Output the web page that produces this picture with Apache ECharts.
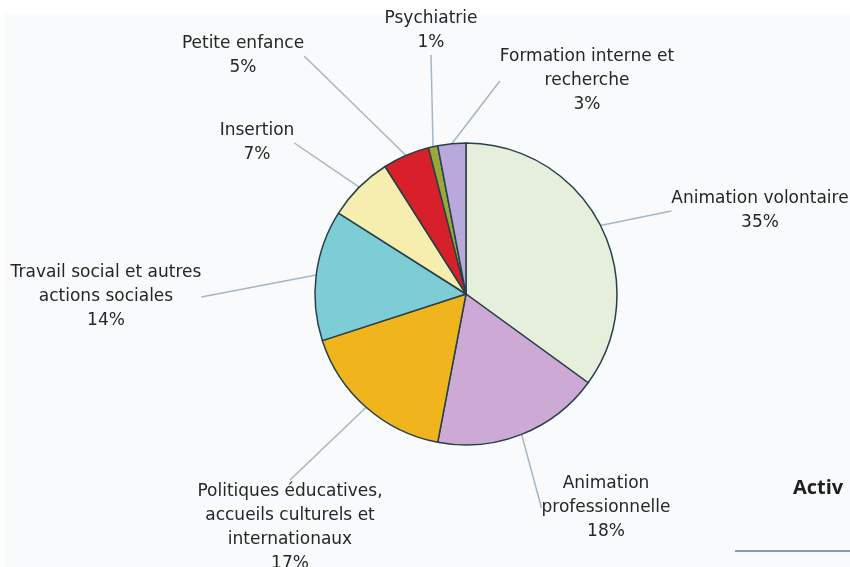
<!DOCTYPE html>
<html>
<head>
<meta charset="utf-8">
<script src="https://cdn.jsdelivr.net/npm/echarts@6/dist/echarts.min.js"></script>
<style>
  html, body { margin: 0; padding: 0; background: #ffffff; }
  #chart { width: 850px; height: 567px; }
</style>
</head>
<body>
<div id="chart"></div>
<script>
// categories, clockwise from 12 o'clock
const categories = [
  'Animation volontaire',
  'Animation\nprofessionnelle',
  'Politiques éducatives,\naccueils culturels et\ninternationaux',
  'Travail social et autres\nactions sociales',
  'Insertion',
  'Petite enfance',
  'Psychiatrie',
  'Formation interne et\nrecherche'
]
// share in %
const shares = [35, 18, 17, 14, 7, 5, 1, 3]

const colors = ['#e6efdc', '#cda9d5', '#f0b41c', '#7ccdd5', '#f6eeae', '#d8202a', '#9aa83a', '#b9a8dc']

// where each label block sits (centre of the text block)
const labelSpots = [
  [760, 211], [606, 508], [290, 528], [106, 297],
  [257, 143], [243, 56], [431, 31], [587, 81]
]

const chart = echarts.init(document.getElementById('chart'))

const option = {
  backgroundColor: '#ffffff',
  animation: false,
  graphic: [
    {
      type: 'rect',
      z: -10,
      shape: { x: 5, y: 14, width: 845, height: 553 },
      style: { fill: '#f8fafb' }
    },
    {
      type: 'text',
      left: 793,
      top: 478,
      style: { text: 'Activ', font: 'bold 20px "Open Sans"', fill: '#1e1e1e' }
    },
    {
      type: 'line',
      shape: { x1: 735, y1: 551, x2: 850, y2: 551 },
      style: { stroke: '#5f7f90', lineWidth: 1.5 }
    }
  ],
  series: [
    {
      type: 'pie',
      center: [466, 294],
      radius: 151,
      startAngle: 90,
      clockwise: true,
      data: categories.map((name, i) => ({
        name: name,
        value: shares[i],
        itemStyle: { color: colors[i] }
      })),
      itemStyle: {
        borderColor: '#2a4049',
        borderWidth: 1.5
      },
      label: {
        show: true,
        position: 'outside',
        formatter: p => p.name + '\n' + p.value + '%',
        fontFamily: 'DejaVu Sans',
        fontSize: 17,
        lineHeight: 24,
        color: '#262626',
        align: 'center'
      },
      labelLine: {
        show: true,
        length: 20,
        length2: 0,
        lineStyle: { color: '#a3b7c6', width: 1.5 }
      },
      labelLayout: params => ({
        x: labelSpots[params.dataIndex][0],
        y: labelSpots[params.dataIndex][1],
        align: 'center',
        verticalAlign: 'middle'
      }),
      emphasis: { disabled: true }
    }
  ]
}

chart.setOption(option)
</script>
</body>
</html>
